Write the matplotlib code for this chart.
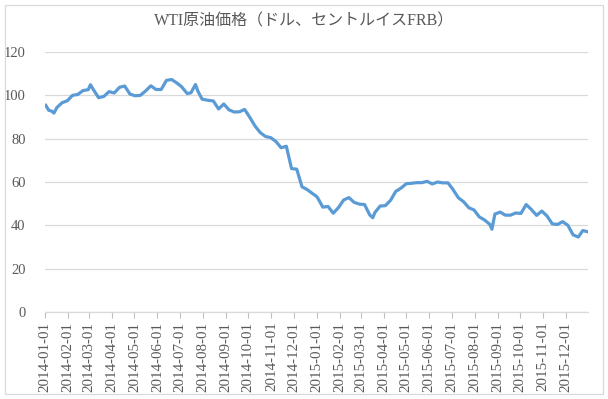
import matplotlib
matplotlib.use("Agg")
import matplotlib.pyplot as plt
import matplotlib.dates as mdates
from matplotlib.patches import Rectangle
import pandas as pd

dates_2014 = ["2014-01-02","2014-01-06","2014-01-10","2014-01-13","2014-01-17","2014-01-24","2014-01-31",
              "2014-02-07","2014-02-14","2014-02-21","2014-02-28",
              "2014-03-03","2014-03-07","2014-03-14","2014-03-21","2014-03-28",
              "2014-04-04","2014-04-11","2014-04-18","2014-04-25",
              "2014-05-02","2014-05-09","2014-05-16","2014-05-23","2014-05-30",
              "2014-06-06","2014-06-13","2014-06-20","2014-06-27",
              "2014-07-03","2014-07-11","2014-07-16","2014-07-22","2014-07-25","2014-07-31",
              "2014-08-08","2014-08-15","2014-08-22","2014-08-29",
              "2014-09-05","2014-09-12","2014-09-19","2014-09-26",
              "2014-10-03","2014-10-10","2014-10-17","2014-10-24","2014-10-31",
              "2014-11-07","2014-11-14","2014-11-21","2014-11-28",
              "2014-12-05","2014-12-12","2014-12-19","2014-12-26","2014-12-31"]
values_2014 = [95.4,93.1,92.7,91.8,94.4,96.6,97.5,
               100.0,100.4,102.2,102.6,
               104.9,102.6,98.9,99.5,101.7,
               101.1,103.7,104.3,100.6,
               99.8,100.0,102.0,104.4,102.7,
               102.7,106.9,107.3,105.7,
               104.1,100.8,101.2,105.0,102.1,98.2,
               97.7,97.4,93.7,96.0,
               93.3,92.3,92.4,93.5,
               89.8,85.8,82.8,81.0,80.5,
               78.7,75.8,76.5,66.2,
               65.9,57.8,56.5,54.7,53.5]

dates_2015 = ["2015-01-02","2015-01-09","2015-01-16","2015-01-23","2015-01-30",
              "2015-02-06","2015-02-13","2015-02-20","2015-02-27",
              "2015-03-06","2015-03-13","2015-03-17","2015-03-20","2015-03-27",
              "2015-04-03","2015-04-10","2015-04-17","2015-04-24",
              "2015-05-01","2015-05-08","2015-05-15","2015-05-22","2015-05-29",
              "2015-06-05","2015-06-12","2015-06-19","2015-06-26",
              "2015-07-02","2015-07-10","2015-07-17","2015-07-24","2015-07-31",
              "2015-08-07","2015-08-14","2015-08-21","2015-08-24","2015-08-28",
              "2015-09-04","2015-09-11","2015-09-18","2015-09-25",
              "2015-10-02","2015-10-09","2015-10-16","2015-10-23","2015-10-30",
              "2015-11-06","2015-11-13","2015-11-20","2015-11-27",
              "2015-12-04","2015-12-11","2015-12-18","2015-12-24","2015-12-31"]
values_2015 = [52.7,48.4,48.7,45.6,48.2,
               51.7,52.8,50.6,49.8,
               49.6,44.8,43.5,46.0,48.9,
               49.1,51.6,55.7,57.2,
               59.2,59.4,59.7,59.7,60.3,
               59.1,60.0,59.6,59.6,
               56.9,52.7,50.9,48.1,47.1,
               43.9,42.5,40.5,38.2,45.2,
               46.1,44.7,44.7,45.7,
               45.5,49.6,47.3,44.6,46.6,
               44.3,40.7,40.4,41.7,
               40.0,35.6,34.6,37.6,37.0]

title = "WTI原油価格（ドル、セントルイスFRB）"
y_ticks = [0, 20, 40, 60, 80, 100, 120]

x = pd.to_datetime(dates_2014 + dates_2015)
y = values_2014 + values_2015
month_ticks = pd.date_range("2014-01-01", "2015-12-01", freq="MS")

fig = plt.figure(figsize=(6.08, 3.99), dpi=100)
ax = fig.add_axes([45/608, 87/399, 543/608, 260/399])

ax.plot(x, y, color="#5B9BD5", lw=2.3, solid_joinstyle="round")

ax.set_xlim(pd.Timestamp("2014-01-01"), pd.Timestamp("2015-12-31"))
ax.set_ylim(0, 120)
ax.set_yticks(y_ticks)
ax.set_xticks(month_ticks)
ax.xaxis.set_major_formatter(mdates.DateFormatter("%Y-%m-%d"))

serif = ["Liberation Serif", "Noto Sans CJK JP"]
for lab in ax.get_xticklabels():
    lab.set_rotation(90)
ax.tick_params(axis="x", colors="#bfbfbf", length=4, width=0.8, labelcolor="#595959",
               labelsize=10.8, pad=3)
ax.tick_params(axis="y", length=0, labelcolor="#595959", labelsize=10.5, pad=14)
for lab in ax.get_xticklabels() + ax.get_yticklabels():
    lab.set_family(serif)

ax.grid(axis="y", color="#d9d9d9", lw=0.9)
ax.set_axisbelow(True)
for s in ["top", "right", "left"]:
    ax.spines[s].set_visible(False)
ax.spines["bottom"].set_color("#d9d9d9")
ax.spines["bottom"].set_linewidth(0.9)

fig.text(0.5, 1 - 21/399, title, ha="center", va="center", fontsize=11.5,
         color="#595959", family=serif)

fig.patches.append(Rectangle((5/608, 5/399), 598/608, 389/399, transform=fig.transFigure,
                             fill=False, edgecolor="#d9d9d9", lw=0.9))

fig.savefig("out.png", dpi=100)
